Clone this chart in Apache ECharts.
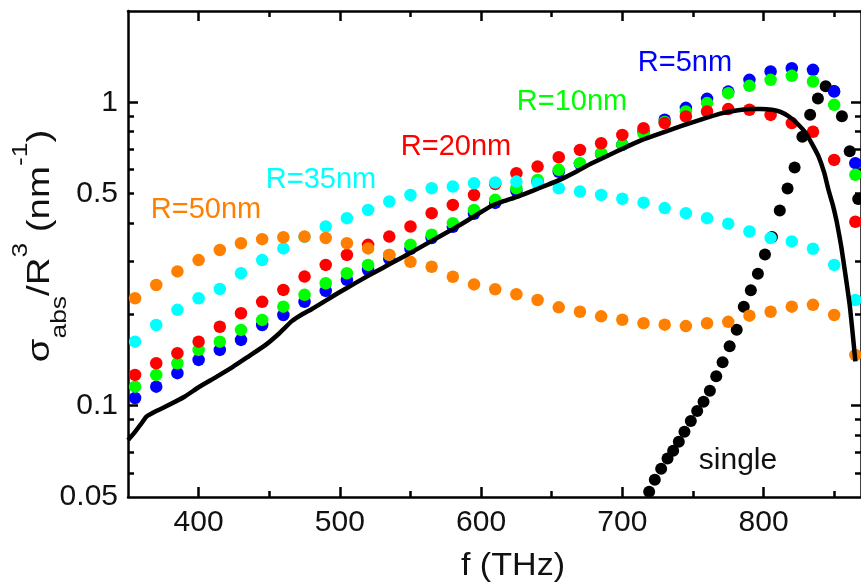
<!DOCTYPE html>
<html><head><meta charset="utf-8">
<script src="https://cdn.jsdelivr.net/npm/echarts@6/dist/echarts.min.js"></script>
<style>html,body{margin:0;padding:0;background:#fff}#c{width:861px;height:586px}</style>
</head><body><div id="c"></div>
<script>
// frequency grid (THz) for the coloured dotted series
const freq = [355,370,385,400,415,430,445,460,475,490,505,520,535,550,565,580,595,610,625,640,655,670,685,700,715,730,745,760,775,790,805,820,835,850,865];
const r5  = [0.106,0.1155,0.128,0.1415,0.1527,0.1647,0.1845,0.199,0.220,0.239,0.260,0.280,0.305,0.329,0.357,0.389,0.429,0.466,0.511,0.547,0.590,0.627,0.676,0.724,0.799,0.876,0.959,1.027,1.085,1.186,1.264,1.296,1.280,1.085,0.630];
const r10 = [0.1155,0.1263,0.138,0.1527,0.1626,0.1777,0.1917,0.212,0.232,0.2533,0.2733,0.291,0.314,0.339,0.366,0.3995,0.442,0.477,0.521,0.555,0.599,0.630,0.680,0.724,0.791,0.862,0.933,0.994,1.072,1.133,1.186,1.223,1.171,0.981,0.577];
const r20 = [0.1263,0.138,0.149,0.1626,0.182,0.2017,0.220,0.2407,0.2664,0.291,0.314,0.339,0.361,0.3895,0.431,0.459,0.495,0.538,0.584,0.614,0.659,0.697,0.733,0.781,0.822,0.854,0.898,0.933,0.950,0.945,0.909,0.854,0.800,0.646,0.404];
const r35 = [0.1626,0.1845,0.207,0.226,0.2425,0.2733,0.302,0.330,0.360,0.3895,0.415,0.442,0.471,0.495,0.521,0.528,0.541,0.544,0.548,0.541,0.521,0.508,0.495,0.481,0.467,0.448,0.431,0.415,0.398,0.375,0.357,0.348,0.329,0.291,0.223];
const r50 = [0.226,0.250,0.277,0.302,0.326,0.343,0.354,0.359,0.361,0.357,0.343,0.330,0.314,0.298,0.287,0.266,0.251,0.242,0.233,0.223,0.211,0.204,0.197,0.192,0.187,0.185,0.183,0.187,0.189,0.198,0.204,0.212,0.215,0.199,0.147];
// single particle (black dots)
const singleF = [719,723,727.5,732,736,740,744,748.5,753,757.5,762,766.5,771,776,781,786,791,796,801,806,811.5,817,822,827.5,833,838.5,844,850,855.5,861,867];
const singleV = [0.052,0.057,0.062,0.067,0.071,0.076,0.082,0.089,0.096,0.103,0.112,0.125,0.139,0.157,0.178,0.212,0.240,0.272,0.315,0.36,0.44,0.52,0.61,0.77,0.91,1.03,1.13,1.09,0.90,0.69,0.48];
// solid black curve
const lineF = [350,355,360,363,370,377,390,400,412,424,436,447,457,466,474,480,490,500,510,520,530,540,550,560,570,580,590,600,608,616,626,636,646,656,668,678,690,701,712,724,736,748,760,771,782,790,798,806,812,818,824,830,835,839,843,846,849,852,855,858,861,863,865];
const lineV = [0.077,0.082,0.088,0.092,0.096,0.0995,0.107,0.115,0.124,0.134,0.146,0.158,0.173,0.190,0.201,0.208,0.222,0.237,0.252,0.268,0.284,0.301,0.319,0.339,0.360,0.382,0.407,0.435,0.457,0.472,0.489,0.510,0.532,0.556,0.593,0.628,0.668,0.706,0.745,0.781,0.818,0.854,0.890,0.921,0.941,0.950,0.951,0.945,0.930,0.898,0.850,0.791,0.720,0.662,0.585,0.514,0.46,0.40,0.335,0.27,0.215,0.175,0.14];
// axis ticks
const xMajor = [400,500,600,700,800];
const xMinor = [450,550,650,750,850];
const yLabels = [0.05,0.1,0.5,1];
const yMajor = [0.1,1];
const yMinor = [0.06,0.07,0.08,0.09,0.2,0.3,0.4,0.5,0.6,0.7,0.8,0.9];

const FONT = 'Liberation Sans, Arial, Helvetica, sans-serif';
const X_MIN = 350, X_MAX = 869, Y_MIN = 0.05, Y_MAX = 2;

function xAx(pos, ticks, len, labels, line) {
  return {
    type: 'value', position: pos, min: X_MIN, max: X_MAX,
    axisLine: {show: line, onZero: false, lineStyle: {color: '#000', width: 2.5}},
    axisTick: {show: true, inside: true, length: len, customValues: ticks, lineStyle: {color: '#000', width: 2.5}},
    axisLabel: labels ? {show: true, customValues: ticks, fontSize: 30, color: '#111', fontFamily: FONT, margin: 11} : {show: false},
    splitLine: {show: false}
  };
}
function yAx(pos, ticks, len, labels, line) {
  return {
    type: 'log', logBase: 10, position: pos, min: Y_MIN, max: Y_MAX,
    axisLine: {show: line, onZero: false, lineStyle: {color: '#000', width: 2.5}},
    axisTick: {show: true, inside: true, length: len, customValues: ticks, lineStyle: {color: '#000', width: 2.5}},
    axisLabel: labels ? {show: true, customValues: yLabels, fontSize: 30, color: '#111', fontFamily: FONT, margin: 10,
      formatter: v => String(parseFloat(Number(v).toPrecision(6)))} : {show: false},
    splitLine: {show: false}
  };
}
const pts = (xs, ys) => xs.map((x, i) => [x, ys[i]]);
function dots(name, color, ys) {
  return {name, type: 'scatter', xAxisIndex: 0, yAxisIndex: 0, symbol: 'circle', symbolSize: 12.5,
    itemStyle: {color, opacity: 1}, data: pts(freq, ys), silent: true};
}
function lab(text, color, x, y, size, sx) {
  return {type: 'text', x, y, z: 100, scaleX: sx || 1,
    style: {text, fill: color, font: (size||29) + 'px ' + FONT, align: 'center', verticalAlign: 'middle'}};
}

const chart = echarts.init(document.getElementById('c'), null, {renderer: 'canvas'});
chart.setOption({
  animation: false,
  backgroundColor: '#fff',
  grid: {left: 128, right: -5, top: 11, bottom: 89, containLabel: false},
  xAxis: [xAx('bottom', xMajor, 10, true, true), xAx('bottom', xMinor, 6, false, false),
          xAx('top', xMajor, 10, false, true), xAx('top', xMinor, 6, false, false)],
  yAxis: [yAx('left', yMajor, 10, true, true), yAx('left', yMinor, 6, false, false),
          yAx('right', yMajor, 10, false, true), yAx('right', yMinor, 6, false, false)],
  series: [
    {name: 'single', type: 'scatter', symbol: 'circle', symbolSize: 12, itemStyle: {color: '#000', opacity: 1}, data: pts(singleF, singleV)},
    dots('R=5nm', '#0000ff', r5),
    dots('R=10nm', '#00ff00', r10),
    dots('R=20nm', '#ff0000', r20),
    dots('R=35nm', '#00ffff', r35),
    dots('R=50nm', '#ff8000', r50),
    {name: 'curve', type: 'line', showSymbol: false, symbol: 'none', smooth: 0.15, data: pts(lineF, lineV),
      lineStyle: {color: '#000', width: 4.5}, z: 3}
  ],
  graphic: [
    lab('R=5nm', '#0000ff', 685, 63),
    lab('R=10nm', '#00ff00', 572, 102),
    lab('R=20nm', '#ff0000', 456, 147),
    lab('R=35nm', '#00ffff', 321, 180),
    lab('R=50nm', '#ff8000', 206, 210),
    lab('single', '#111', 738, 461, 30),
    lab('f (THz)', '#111', 513, 566, 31, 1.1),
    {type: 'text', x: 40, y: 246, rotation: Math.PI / 2, scaleX: 1.2, z: 100,
     style: {text: '{a|σ}{b|abs}{a|/R}{c|3}{a| (nm}{c|-1}{a|)}', align: 'center', verticalAlign: 'middle',
       rich: {
         a: {fontSize: 32, fontFamily: FONT, fill: '#111', lineHeight: 61, verticalAlign: 'middle'},
         b: {fontSize: 22, fontFamily: FONT, fill: '#111', lineHeight: 22, verticalAlign: 'bottom'},
         c: {fontSize: 22, fontFamily: FONT, fill: '#111', lineHeight: 22, verticalAlign: 'top'}
       }}}
  ]
});
</script></body></html>
